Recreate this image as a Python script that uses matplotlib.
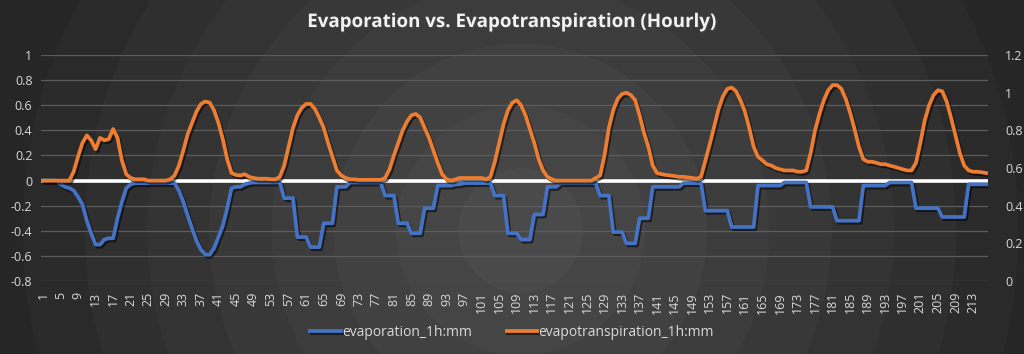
import numpy as np
import matplotlib.pyplot as plt
import matplotlib.patheffects as pe

# -------------------------------
# Data (hourly, 9 days = 216 hours)
# -------------------------------
hours = list(range(1, 217))

# evaporation_1h:mm  (left axis)
evaporation = [
    0, 0, 0, 0, -0.03, -0.05, -0.06, -0.08, -0.13, -0.19, -0.32, -0.42,
    -0.51, -0.51, -0.47, -0.46, -0.46, -0.3, -0.17, -0.06, -0.03, -0.02, -0.02, -0.02,
    -0.02, -0.02, -0.02, -0.02, -0.02, -0.02, -0.02, -0.08, -0.17, -0.28, -0.38, -0.48,
    -0.55, -0.59, -0.59, -0.54, -0.45, -0.36, -0.22, -0.06, -0.05, -0.05, -0.03, -0.02,
    -0.015, -0.015, -0.015, -0.015, -0.015, -0.015, -0.015, -0.14, -0.14, -0.14, -0.45, -0.45,
    -0.45, -0.53, -0.53, -0.53, -0.34, -0.34, -0.34, -0.05, -0.05, -0.05, -0.015, -0.015,
    -0.015, -0.015, -0.015, -0.015, -0.015, -0.015, -0.12, -0.12, -0.12, -0.34, -0.34, -0.34,
    -0.42, -0.42, -0.42, -0.22, -0.22, -0.22, -0.04, -0.04, -0.04, -0.04, -0.03, -0.03,
    -0.02, -0.02, -0.02, -0.02, -0.02, -0.02, -0.02, -0.12, -0.12, -0.12, -0.42, -0.42,
    -0.42, -0.47, -0.47, -0.47, -0.27, -0.27, -0.27, -0.05, -0.05, -0.05, -0.02, -0.02,
    -0.02, -0.02, -0.02, -0.02, -0.02, -0.02, -0.02, -0.12, -0.12, -0.12, -0.41, -0.41,
    -0.41, -0.5, -0.5, -0.5, -0.3, -0.3, -0.3, -0.05, -0.05, -0.05, -0.05, -0.05,
    -0.05, -0.05, -0.02, -0.02, -0.02, -0.02, -0.02, -0.24, -0.24, -0.24, -0.24, -0.24,
    -0.24, -0.37, -0.37, -0.37, -0.37, -0.37, -0.37, -0.04, -0.04, -0.04, -0.04, -0.04,
    -0.04, -0.015, -0.015, -0.015, -0.015, -0.015, -0.015, -0.21, -0.21, -0.21, -0.21, -0.21,
    -0.21, -0.32, -0.32, -0.32, -0.32, -0.32, -0.32, -0.04, -0.04, -0.04, -0.04, -0.04,
    -0.04, -0.015, -0.015, -0.015, -0.015, -0.015, -0.015, -0.22, -0.22, -0.22, -0.22, -0.22,
    -0.22, -0.29, -0.29, -0.29, -0.29, -0.29, -0.29, -0.03, -0.03, -0.03, -0.03, -0.03,
]

# evapotranspiration_1h:mm  (right axis)
evapotranspiration = [
    0.533, 0.533, 0.533, 0.533, 0.533, 0.533, 0.533, 0.58, 0.66, 0.733, 0.773, 0.747,
    0.7, 0.76, 0.747, 0.753, 0.807, 0.76, 0.64, 0.567, 0.547, 0.54, 0.54, 0.54,
    0.533, 0.533, 0.533, 0.533, 0.533, 0.54, 0.56, 0.613, 0.693, 0.78, 0.84, 0.9,
    0.94, 0.953, 0.947, 0.907, 0.84, 0.753, 0.647, 0.573, 0.563, 0.56, 0.567, 0.553,
    0.547, 0.543, 0.543, 0.543, 0.54, 0.54, 0.553, 0.613, 0.713, 0.813, 0.88, 0.92,
    0.94, 0.94, 0.913, 0.867, 0.813, 0.733, 0.66, 0.587, 0.56, 0.547, 0.54, 0.54,
    0.537, 0.537, 0.537, 0.537, 0.537, 0.537, 0.547, 0.593, 0.667, 0.733, 0.8, 0.847,
    0.88, 0.887, 0.867, 0.813, 0.76, 0.693, 0.627, 0.567, 0.54, 0.533, 0.54, 0.547,
    0.547, 0.547, 0.547, 0.547, 0.547, 0.54, 0.553, 0.633, 0.733, 0.833, 0.907, 0.947,
    0.96, 0.933, 0.88, 0.807, 0.733, 0.647, 0.587, 0.553, 0.54, 0.533, 0.533, 0.533,
    0.533, 0.533, 0.533, 0.533, 0.533, 0.533, 0.547, 0.56, 0.667, 0.813, 0.907, 0.967,
    0.993, 1.0, 0.987, 0.96, 0.88, 0.787, 0.713, 0.613, 0.573, 0.567, 0.563, 0.56,
    0.557, 0.553, 0.553, 0.55, 0.547, 0.543, 0.553, 0.64, 0.727, 0.82, 0.913, 0.98,
    1.02, 1.027, 1.007, 0.96, 0.9, 0.813, 0.713, 0.66, 0.64, 0.62, 0.613, 0.6,
    0.593, 0.587, 0.587, 0.587, 0.58, 0.58, 0.587, 0.68, 0.8, 0.887, 0.96, 1.013,
    1.04, 1.04, 1.02, 0.967, 0.893, 0.807, 0.713, 0.647, 0.633, 0.633, 0.627, 0.62,
    0.62, 0.613, 0.607, 0.6, 0.593, 0.587, 0.587, 0.627, 0.733, 0.853, 0.933, 0.987,
    1.013, 1.007, 0.953, 0.867, 0.773, 0.68, 0.613, 0.587, 0.58, 0.58, 0.577, 0.573,
]

left_ticks = [-0.8, -0.6, -0.4, -0.2, 0, 0.2, 0.4, 0.6, 0.8, 1]
right_ticks = [0, 0.2, 0.4, 0.6, 0.8, 1, 1.2]
x_labels = hours[::4]

TEXT = '#d9d9d9'
BLUE = '#4472C4'
ORANGE = '#ED7D31'
plt.rcParams['font.family'] = ['Open Sans', 'DejaVu Sans']

# -------------------------------
# Figure + radial background
# -------------------------------
fig = plt.figure(figsize=(10.24, 3.54), dpi=100)
bg = fig.add_axes([0, 0, 1, 1], zorder=-10)
yy, xx = np.mgrid[0:354, 0:1024]
dist = np.sqrt((xx - 520) ** 2 + (yy - 230) ** 2)
shade = np.clip(1 - dist / 560, 0, 1)
shade = np.floor(shade * 9) / 9  # banded rings like the original
grey = 0.15 + 0.16 * shade
bg.imshow(np.dstack([grey, grey, grey]), aspect='auto', interpolation='bilinear')
bg.axis('off')

ax = fig.add_axes([0.0398, 0.2062, 0.9254, 0.6384])
ax2 = ax.twinx()
for a in (ax, ax2):
    a.patch.set_visible(False)
    for s in a.spines.values():
        s.set_visible(False)

shadow = [pe.SimpleLineShadow(offset=(1.2, -1.5), shadow_color='black', alpha=0.55),
          pe.Normal()]

ax.axhline(0, color='white', lw=2.6, zorder=2)
ax.plot(hours, evaporation, color=BLUE, lw=2.7, zorder=3,
        solid_joinstyle='round', path_effects=shadow, label='evaporation_1h:mm')
ax2.plot(hours, evapotranspiration, color=ORANGE, lw=2.7, zorder=3,
         solid_joinstyle='round', path_effects=shadow, label='evapotranspiration_1h:mm')

ax.set_xlim(0.5, 216.5)
ax.set_ylim(-0.8, 1)
ax2.set_ylim(0, 1.2)
ax.set_yticks(left_ticks)
ax.set_yticklabels([f'{t:g}' for t in left_ticks])
ax2.set_yticks(right_ticks)
ax2.set_yticklabels([f'{t:g}' for t in right_ticks])
ax.set_xticks(x_labels)
ax.set_xticklabels([str(h) for h in x_labels], rotation=90)

ax.grid(axis='y', color='#5c5c5c', lw=0.9, zorder=1)
ax.set_axisbelow(True)
ax.tick_params(axis='both', length=0, colors=TEXT, labelsize=9)
ax.tick_params(axis='y', pad=6)
ax.tick_params(axis='x', pad=8)
ax2.tick_params(axis='y', length=0, colors=TEXT, labelsize=9, pad=12)

fig.text(0.5, 1 - 22 / 354, 'Evaporation vs. Evapotranspiration (Hourly)',
         ha='center', va='center', color='#f2f2f2', fontsize=13.5, fontweight='bold',
         path_effects=[pe.withSimplePatchShadow(offset=(1, -1), alpha=0.6)])

h1, l1 = ax.get_legend_handles_labels()
h2, l2 = ax2.get_legend_handles_labels()
leg = fig.legend(h1 + h2, l1 + l2, loc='center', bbox_to_anchor=(0.5, 1 - 332 / 354),
                 ncol=2, frameon=False, fontsize=10, labelcolor=TEXT,
                 handlelength=2.2, handletextpad=0.1, columnspacing=2.5)

plt.savefig('out.png', dpi=100)
